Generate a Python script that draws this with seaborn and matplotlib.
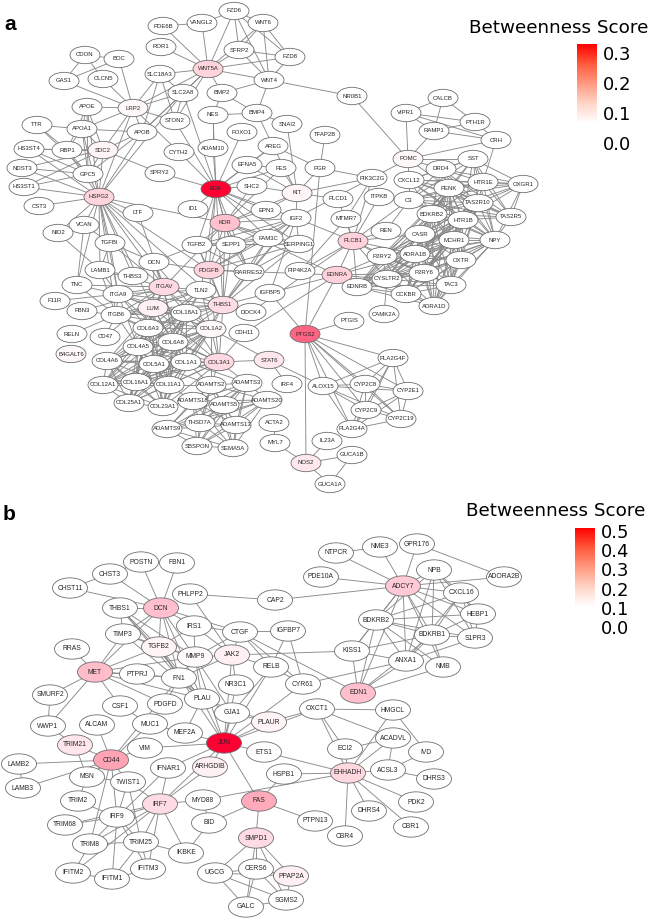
from itertools import combinations

import matplotlib
matplotlib.use("Agg")
import matplotlib.pyplot as plt
import pandas as pd
import seaborn as sns
from matplotlib.cm import ScalarMappable
from matplotlib.collections import LineCollection
from matplotlib.colors import LinearSegmentedColormap, Normalize
from matplotlib.path import Path
from matplotlib.transforms import Affine2D

# Panel a nodes, layout
a_names = [
    "FZD6", "VANGL2", "PDE6B", "WNT6", "ROR1", "SFRP2", "FZD8", "CDON", "BOC", "WNT5A",
    "SLC18A3", "GAS1", "CLCN5", "WNT4", "SLC2A8", "BMP2", "APOE", "LRP2", "BMP4", "NES",
    "STON2", "SNAI2", "TTR", "APOA1", "APOB", "FOXO1", "TFAP2B", "AREG", "ADAM10", "CYTH2",
    "HS3ST4", "RBP1", "SDC2", "EFNA5", "FES", "PGR", "NDST3", "GPC5", "SPRY2", "SHC2",
    "EGF", "KIT", "HS3ST1", "HSPG2", "CST3", "LTF", "ID1", "EPN3", "IGF2", "KDR",
    "VCAN", "NID2", "FAM3C", "TGFBI", "SERPING1", "TGFB2", "SEPP1", "DCN", "PDGFB", "LAMB1",
    "RARRES2", "THBS3", "PIP4K2A", "ITGAV", "TNC", "TLN2", "IGFBP5", "ITGA9", "F11R", "LUM",
    "THBS1", "FBN3", "ITGB6", "COL18A1", "DOCK4", "COL6A3", "COL1A2", "CDH11", "RELN", "CD47",
    "PTGS2", "COL6A8", "COL4A5", "B4GALT6", "COL4A6", "COL5A1", "COL1A1", "COL3A1", "STAT6", "COL12A1",
    "COL16A1", "COL11A1", "ADAMTS2", "ADAMTS3", "IRF4", "ALOX15", "COL25A1", "COL23A1", "ADAMTS18", "ADAMTS5",
    "ADAMTS20", "ACTA2", "THSD7A", "ADAMTS13", "ADAMTS9", "SBSPON", "SEMA5A", "MYL7", "NOS2", "IL23A",
    "GUCA1B", "GUCA1A", "NR0B1", "CALCB", "VIPR1", "PTH1R", "RAMP1", "CRH", "POMC", "SST",
    "DRD4", "OXGR1", "HTR1E", "PIK3C2G", "CXCL12", "PENK", "PLCD1", "ITPKB", "C3", "TAS2R10",
    "TAS2R5", "BDKRB2", "HTR1B", "MTMR7", "REN", "CASR", "MCHR1", "NPY", "PLCB1", "P2RY2",
    "ADRA1B", "OXTR", "EDNRA", "P2RY6", "CYSLTR2", "EDNRB", "TAC3", "CCKBR", "ADRA1D", "CAMK2A",
    "PTGIS", "PLA2G4F", "CYP2C8", "CYP2E1", "CYP2C9", "CYP2C19", "PLA2G4A",
]
a_x = [
    234, 202, 163, 263, 161, 239, 290, 85, 119, 208,
    160, 64, 103, 269, 183, 222, 87, 133, 257, 213,
    175, 287, 37, 82, 142, 242, 325, 273, 213, 179,
    29, 67, 103, 247, 281, 320, 22, 88, 160, 252,
    216, 297, 24, 99, 39, 138, 193, 266, 296, 225,
    84, 58, 268, 110, 299, 197, 231, 154, 209, 100,
    249, 133, 300, 164, 77, 201, 270, 118, 55, 153,
    223, 82, 116, 186, 251, 148, 211, 244, 72, 105,
    305, 173, 138, 71, 107, 154, 186, 219, 269, 103,
    136, 169, 211, 247, 287, 323, 129, 163, 193, 224,
    267, 274, 200, 236, 167, 197, 233, 275, 306, 327,
    352, 330, 352, 443, 406, 475, 434, 496, 408, 473,
    441, 523, 483, 372, 409, 449, 338, 379, 409, 478,
    511, 432, 463, 346, 386, 420, 454, 495, 353, 382,
    415, 461, 337, 424, 387, 357, 451, 406, 434, 384,
    349, 393, 365, 408, 366, 401, 352,
]
a_y = [
    11, 23, 26, 23, 47, 50, 57, 55, 59, 69,
    74, 81, 79, 80, 93, 93, 107, 108, 113, 115,
    121, 124, 125, 129, 132, 132, 135, 146, 148, 152,
    149, 150, 150, 165, 168, 168, 168, 174, 173, 186,
    189, 193, 187, 197, 206, 213, 209, 210, 218, 223,
    225, 233, 238, 243, 244, 245, 245, 262, 270, 270,
    272, 276, 271, 287, 285, 290, 293, 294, 301, 308,
    305, 311, 315, 313, 312, 328, 329, 333, 334, 337,
    334, 342, 347, 354, 361, 364, 362, 362, 360, 385,
    382, 385, 385, 383, 384, 386, 403, 407, 401, 405,
    400, 423, 423, 425, 429, 446, 448, 443, 463, 441,
    455, 484, 96, 98, 113, 122, 131, 140, 159, 159,
    169, 184, 182, 178, 180, 188, 199, 197, 200, 203,
    217, 214, 220, 219, 231, 234, 240, 240, 241, 256,
    254, 260, 275, 273, 279, 287, 285, 294, 306, 314,
    321, 358, 384, 391, 410, 419, 429,
]
a_scores = {
    "EGF": 0.33, "PTGS2": 0.2, "KDR": 0.08, "WNT5A": 0.055, "HSPG2": 0.055, "PDGFB": 0.055,
    "ITGAV": 0.05, "EDNRA": 0.06, "PLCB1": 0.06, "THBS1": 0.045, "COL3A1": 0.05, "LUM": 0.02,
    "COL1A2": 0.01, "STAT6": 0.03, "NOS2": 0.03, "SDC2": 0.015, "LRP2": 0.01, "KIT": 0.015,
    "POMC": 0.01, "B4GALT6": 0.01,
}
# neighbours read node by node, dense groups kept as lists below
a_edges = {
    "FZD6": "VANGL2 WNT6 SFRP2 WNT5A FZD8 WNT4",
    "VANGL2": "PDE6B WNT5A",
    "PDE6B": "WNT5A",
    "WNT6": "SFRP2 FZD8 WNT4 WNT5A",
    "ROR1": "WNT5A",
    "SFRP2": "WNT5A FZD8 WNT4",
    "FZD8": "WNT5A WNT4",
    "WNT5A": "SLC18A3 SLC2A8 BMP2 WNT4 STON2 APOB LRP2",
    "WNT4": "BMP2 BMP4 NR0B1",
    "BMP2": "BMP4 NES",
    "BMP4": "NES SNAI2 AREG",
    "CDON": "GAS1 CLCN5 BOC",
    "BOC": "GAS1 LRP2",
    "GAS1": "LRP2",
    "CLCN5": "LRP2",
    "LRP2": "APOE APOA1 APOB SLC18A3 SLC2A8 STON2 CYTH2 SDC2 HSPG2",
    "SLC18A3": "SLC2A8 STON2 APOB",
    "SLC2A8": "STON2 APOB EGF HSPG2",
    "APOE": "APOA1 RBP1 SDC2 GPC5 HSPG2",
    "TTR": "APOA1 RBP1 GPC5",
    "APOA1": "APOB RBP1 SDC2 GPC5 HSPG2",
    "APOB": "SDC2 GPC5 HSPG2",
    "HS3ST4": "RBP1 GPC5 HSPG2 SDC2",
    "NDST3": "GPC5 HSPG2 SDC2",
    "HS3ST1": "HSPG2 GPC5 SDC2",
    "CST3": "HSPG2",
    "RBP1": "SDC2 GPC5 HSPG2",
    "SDC2": "GPC5 HSPG2 SPRY2",
    "GPC5": "HSPG2",
    "HSPG2": "LTF KDR VCAN NID2 LAMB1 TGFBI DCN ITGAV ITGA9 ITGB6 LUM THBS3 THBS1 PDGFB TNC",
    "SPRY2": "EGF",
    "CYTH2": "EGF",
    "STON2": "EGF",
    "NES": "ADAM10 EGF",
    "ADAM10": "EGF",
    "FOXO1": "EGF",
    "EFNA5": "EGF KIT AREG",
    "AREG": "EGF KIT PGR",
    "SHC2": "EGF KDR KIT",
    "EGF": "KDR EPN3 IGF2 ID1 FES THBS1 PDGFB SEPP1 TGFB2 FAM3C SERPING1 RARRES2 TLN2",
    "SNAI2": "KIT",
    "FES": "KIT EFNA5 KDR",
    "PGR": "KIT PTGS2 TFAP2B PIK3C2G",
    "KIT": "EPN3 IGF2 KDR PIK3C2G PLCD1",
    "EPN3": "KDR",
    "IGF2": "IGFBP5 PIK3C2G",
    "POMC": "NR0B1 VIPR1 RAMP1 CRH SST PIK3C2G CXCL12 DRD4 PENK",
    "VIPR1": "CALCB RAMP1 PTH1R CRH",
    "CALCB": "RAMP1 PTH1R",
    "RAMP1": "PTH1R CRH",
    "PTH1R": "CRH",
    "CRH": "HTR1E",
    "VCAN": "TGFBI TNC",
    "NID2": "LAMB1",
    "LTF": "ITGAV",
    "TGFBI": "ITGAV DCN LAMB1 ITGA9",
    "LAMB1": "ITGA9 ITGAV ITGB6 THBS3",
    "DCN": "ITGAV PDGFB TGFB2 COL1A1 COL1A2 LUM THBS3",
    "TNC": "ITGA9 ITGAV ITGB6",
    "F11R": "ITGA9",
    "FBN3": "ITGB6 ITGAV",
    "RELN": "ITGB6",
    "CD47": "ITGB6 ITGAV",
    "THBS1": "DOCK4 COL1A1 COL1A2 COL3A1 ITGAV LUM TLN2 IGFBP5",
    "COL3A1": "STAT6 PDGFB CDH11 ADAMTS2 ADAMTS3",
    "COL1A1": "ADAMTS2 ADAMTS3",
    "COL1A2": "ADAMTS2 STAT6",
    "COL5A1": "ADAMTS2",
    "COL11A1": "ADAMTS2 ADAMTS18",
    "COL23A1": "ADAMTS18",
    "STAT6": "IRF4 ALOX15",
    "CDH11": "EDNRA",
    "DOCK4": "PLCB1",
    "ACTA2": "MYL7",
    "MYL7": "NOS2",
    "NOS2": "PTGS2 IL23A GUCA1B GUCA1A",
    "GUCA1B": "GUCA1A",
    "PTGS2": "PTGIS PLA2G4F CYP2C8 CYP2E1 CYP2C9 CYP2C19 PLA2G4A ALOX15 EDNRA IGFBP5",
    "PLCB1": "EDNRA EDNRB P2RY2 P2RY6 ADRA1B CASR CYSLTR2 MTMR7 PLCD1 ITPKB PIK3C2G PIP4K2A IGF2 REN C3",
    "EDNRA": "EDNRB P2RY2 P2RY6 CYSLTR2 CCKBR ADRA1B PDGFB IGFBP5 KDR",
    "CYSLTR2": "CAMK2A",
    "MTMR7": "PIK3C2G PIP4K2A",
    "C3": "REN",
    "KDR": "ITGAV",
}
a_groups = [
    ["ITGAV", "ITGA9", "ITGB6", "LUM", "COL18A1", "COL6A3", "COL6A8", "COL4A5", "COL1A2", "THBS1", "TLN2"],
    ["COL6A3", "COL6A8", "COL4A5", "COL4A6", "COL5A1", "COL1A1", "COL3A1", "COL1A2", "COL18A1",
     "COL12A1", "COL16A1", "COL11A1", "COL25A1", "COL23A1", "LUM"],
    ["ADAMTS2", "ADAMTS3", "ADAMTS18", "ADAMTS5", "ADAMTS20", "ADAMTS9", "ADAMTS13", "THSD7A", "SBSPON", "SEMA5A"],
    ["TGFB2", "SEPP1", "FAM3C", "SERPING1", "RARRES2", "PDGFB", "IGF2", "THBS1", "KDR"],
    ["CYP2C8", "CYP2E1", "CYP2C9", "CYP2C19", "PLA2G4F", "PLA2G4A", "ALOX15"],
    ["CXCL12", "SST", "DRD4", "HTR1E", "OXGR1", "PENK", "C3", "TAS2R10", "TAS2R5", "BDKRB2", "HTR1B", "NPY"],
    ["BDKRB2", "HTR1B", "CASR", "MCHR1", "NPY", "P2RY2", "ADRA1B", "OXTR", "P2RY6", "CYSLTR2", "TAC3",
     "CCKBR", "ADRA1D", "EDNRB", "PENK", "TAS2R10"],
]

# Panel b
b_names = [
    "POSTN", "FBN1", "CHST3", "CHST11", "PHLPP2", "CAP2", "THBS1", "DCN", "IRS1", "TIMP3",
    "CTGF", "IGFBP7", "RRAS", "TGFB2", "MMP9", "JAK2", "RELB", "MET", "PTPRJ", "FN1",
    "NR3C1", "CYR61", "SMURF2", "PLAU", "PDGFD", "CSF1", "MUC1", "GJA1", "PLAUR", "OXCT1",
    "WWP1", "ALCAM", "MEF2A", "JUN", "TRIM21", "VIM", "ETS1", "CD44", "LAMB2", "IFNAR1",
    "ARHGDIB", "HSPB1", "MSN", "TWIST1", "LAMB3", "TRIM2", "IRF7", "MYD88", "FAS", "PTPN13",
    "IRF9", "TRIM68", "BID", "SMPD1", "TRIM25", "TRIM8", "IKBKE", "IFITM3", "IFITM2", "IFITM1",
    "UGCG", "CERS6", "PPAP2A", "SGMS2", "GALC", "NTPCR", "NME3", "GPR176", "NPB", "PDE10A",
    "ADORA2B", "ADCY7", "CXCL16", "HEBP1", "BDKRB2", "BDKRB1", "S1PR3", "KISS1", "ANXA1", "NMB",
    "EDN1", "HMGCL", "ACADVL", "IVD", "ECI2", "ACSL3", "EHHADH", "DHRS3", "PDK2", "DHRS4",
    "CBR1", "CBR4",
]
b_x = [
    141, 177, 110, 70, 190, 275, 120, 161, 194, 123,
    240, 288, 72, 159, 195, 232, 271, 95, 137, 179,
    236, 303, 50, 202, 165, 120, 150, 232, 269, 317,
    48, 97, 185, 224, 75, 145, 264, 111, 19, 168,
    210, 284, 87, 128, 23, 78, 160, 203, 259, 315,
    117, 65, 209, 256, 141, 90, 186, 148, 73, 112,
    215, 256, 291, 286, 246, 336, 380, 417, 434, 321,
    504, 403, 461, 478, 376, 432, 475, 352, 406, 443,
    358, 393, 393, 426, 345, 388, 348, 434, 416, 369,
    411, 345,
]
b_y = [
    562, 563, 574, 588, 594, 600, 608, 608, 626, 634,
    632, 631, 649, 647, 657, 655, 667, 672, 674, 678,
    685, 684, 695, 699, 704, 706, 724, 713, 722, 709,
    726, 725, 733, 743, 745, 748, 752, 760, 764, 768,
    767, 774, 777, 782, 788, 801, 804, 800, 801, 821,
    817, 825, 823, 838, 842, 844, 853, 869, 873, 879,
    873, 869, 876, 900, 907, 553, 547, 544, 570, 577,
    577, 586, 593, 614, 620, 635, 638, 651, 661, 667,
    693, 710, 738, 752, 749, 770, 773, 779, 802, 811,
    827, 836,
]
b_scores = {
    "JUN": 0.5, "CD44": 0.18, "FAS": 0.165, "MET": 0.13, "DCN": 0.125, "EDN1": 0.125, "ADCY7": 0.105,
    "EHHADH": 0.08, "SMPD1": 0.07, "IRF7": 0.07, "TRIM21": 0.05, "JAK2": 0.03, "PPAP2A": 0.03,
    "ARHGDIB": 0.03, "TGFB2": 0.02, "PLAUR": 0.02, "MMP9": 0.01,
}
b_edges = {
    "CHST11": "CHST3 DCN",
    "CHST3": "POSTN DCN",
    "POSTN": "DCN",
    "FBN1": "DCN",
    "PHLPP2": "CAP2 JAK2",
    "CAP2": "ADCY7",
    "THBS1": "DCN TIMP3 TGFB2 MMP9 FN1 PLAU",
    "DCN": "IRS1 TIMP3 TGFB2 MMP9 FN1 MET PLAU CTGF",
    "IRS1": "CTGF MMP9 JAK2 TGFB2",
    "CTGF": "IGFBP7 JAK2 RELB MMP9 CYR61 EDN1",
    "IGFBP7": "RELB CYR61",
    "TIMP3": "TGFB2 MET MMP9 PLAU",
    "TGFB2": "MET MMP9 FN1 PLAU JUN",
    "MMP9": "JAK2 FN1 PLAU JUN GJA1 MET",
    "JAK2": "RELB NR3C1 JUN KISS1 FN1",
    "RELB": "JUN GJA1 CYR61",
    "RRAS": "MET",
    "MET": "PTPRJ FN1 SMURF2 WWP1 CSF1 PLAU PDGFD",
    "SMURF2": "WWP1",
    "WWP1": "TRIM21",
    "FN1": "PLAU PDGFD PTPRJ CD44",
    "NR3C1": "JUN",
    "PLAU": "PLAUR JUN GJA1 MEF2A",
    "CSF1": "MUC1",
    "PDGFD": "MUC1",
    "MUC1": "CD44 MEF2A",
    "ALCAM": "CD44",
    "TRIM21": "CD44 MSN",
    "VIM": "CD44 JUN",
    "JUN": "GJA1 PLAUR ETS1 MEF2A FAS ARHGDIB CYR61 IRF7 IFNAR1 OXCT1",
    "PLAUR": "OXCT1 GJA1",
    "OXCT1": "HMGCL ACADVL ECI2 EHHADH",
    "HMGCL": "IVD EHHADH",
    "ACADVL": "ACSL3 ECI2 EHHADH",
    "IVD": "ACSL3",
    "ECI2": "EHHADH",
    "ACSL3": "DHRS3 EHHADH",
    "EHHADH": "PDK2 DHRS4 CBR1 CBR4 ETS1 HSPB1 MYD88",
    "HSPB1": "FAS",
    "FAS": "BID PTPN13 SMPD1",
    "LAMB2": "CD44 LAMB3",
    "LAMB3": "CD44",
    "MSN": "CD44 TWIST1 TRIM2",
    "CD44": "TWIST1 IRF9 TRIM8",
    "TWIST1": "IRF7 IRF9 TRIM25",
    "IFNAR1": "IRF7 IRF9",
    "ARHGDIB": "IRF7",
    "MYD88": "IRF7 BID",
    "BID": "IKBKE",
    "IRF7": "IRF9 TRIM8 TRIM25 TRIM68 IFITM2 IFITM3 IKBKE",
    "IRF9": "TRIM2 TRIM68 TRIM8 TRIM25 IFITM1 IFITM3",
    "TRIM25": "IFITM3 IFITM1 IKBKE TRIM8",
    "TRIM8": "IFITM2",
    "IFITM1": "IFITM2 IFITM3",
    "SMPD1": "UGCG CERS6 PPAP2A SGMS2 GALC",
    "UGCG": "CERS6 SGMS2 GALC PPAP2A",
    "CERS6": "GALC SGMS2 PPAP2A",
    "PPAP2A": "SGMS2",
    "GALC": "SGMS2",
    "ADCY7": "NTPCR NME3 GPR176 PDE10A NPB ADORA2B CXCL16 HEBP1 BDKRB2 BDKRB1 S1PR3 KISS1 ANXA1 EDN1 NMB",
    "GPR176": "ADORA2B",
    "NTPCR": "NME3",
    "NPB": "CXCL16 HEBP1 BDKRB1 BDKRB2 ANXA1 S1PR3",
    "CXCL16": "BDKRB2 BDKRB1 ANXA1 HEBP1 S1PR3",
    "HEBP1": "BDKRB2 BDKRB1 S1PR3",
    "BDKRB2": "BDKRB1 KISS1 ANXA1 EDN1 NMB S1PR3",
    "BDKRB1": "S1PR3 KISS1 ANXA1 EDN1 NMB",
    "S1PR3": "ANXA1",
    "KISS1": "EDN1 ANXA1",
    "ANXA1": "EDN1 CYR61",
    "NMB": "EDN1",
}

a_ticks = [0.0, 0.1, 0.2, 0.3]
b_ticks = [0.0, 0.1, 0.2, 0.3, 0.4, 0.5]

NODE_CMAP = LinearSegmentedColormap.from_list("node", ["#ffffff", "#ff0033"])
BAR_CMAP = LinearSegmentedColormap.from_list(
    "bar", ["#ffffff", "#ffffff", "#ffd5c8", "#ff9a80", "#ff5a3c", "#ff0000"]
)
ELLIPSE = Path.unit_circle().transformed(Affine2D().scale(1, 0.58))

W, H = 651, 919


def edge_pairs(edges, groups):
    pairs = set()
    for node, others in edges.items():
        for other in others.split():
            pairs.add(tuple(sorted((node, other))))
    for group in groups:
        for pair in combinations(group, 2):
            pairs.add(tuple(sorted(pair)))
    return pairs


def draw_network(ax, names, xs, ys, scores, pairs, vmax, size, fontsize):
    nodes = pd.DataFrame({"name": names, "x": xs, "y": ys})
    nodes["score"] = nodes["name"].map(scores).fillna(0.0)
    pos = nodes.set_index("name")[["x", "y"]]

    segments = [[pos.loc[a].values, pos.loc[b].values] for a, b in pairs]
    ax.add_collection(LineCollection(segments, colors="#8a8a8a", linewidths=0.65, zorder=1))

    sns.scatterplot(
        data=nodes, x="x", y="y", hue="score", palette=NODE_CMAP,
        hue_norm=(0, vmax), marker=ELLIPSE, s=size, edgecolor="#6e6e6e",
        linewidth=0.6, legend=False, alpha=1, zorder=2, ax=ax,
    )
    for row in nodes.itertuples():
        ax.text(row.x, row.y, row.name, ha="center", va="center", fontsize=fontsize,
                color="#262626", zorder=3)


def draw_scale(fig, left, top, right, bottom, vmax, ticks):
    cax = fig.add_axes([left / W, 1 - bottom / H, (right - left) / W, (bottom - top) / H])
    cbar = fig.colorbar(ScalarMappable(Normalize(0, vmax), BAR_CMAP), cax=cax, ticks=ticks)
    cbar.outline.set_visible(False)
    cax.tick_params(direction="in", color="white", length=3.5, width=0.6, left=True, right=True,
                    labelsize=13, pad=4, labelcolor="black")
    cbar.ax.set_yticklabels([f"{t:.1f}" for t in ticks], family="DejaVu Sans")


sns.set_theme(style="white")
plt.rcParams["font.family"] = ["Liberation Sans", "DejaVu Sans"]

fig = plt.figure(figsize=(W / 100, H / 100), dpi=100)
ax = fig.add_axes([0, 0, 1, 1])

draw_network(ax, a_names, a_x, a_y, a_scores, edge_pairs(a_edges, a_groups), 0.33, 466, 4.3)
draw_network(ax, b_names, b_x, b_y, b_scores, edge_pairs(b_edges, []), 0.5, 635, 4.9)

ax.set_xlim(0, W)
ax.set_ylim(H, 0)
ax.set_axis_off()

ax.text(4, 25, "a", fontsize=15, fontweight="bold", color="black", va="center")
ax.text(3, 514, "b", fontsize=15, fontweight="bold", color="black", va="center")
ax.text(469, 28, "Betweenness Score", fontsize=13.2, family="DejaVu Sans", color="black", va="center")
ax.text(466, 511, "Betweenness Score", fontsize=13.2, family="DejaVu Sans", color="black", va="center")

draw_scale(fig, 577, 44, 597, 143, 0.33, a_ticks)
draw_scale(fig, 575, 528, 595, 627, 0.515, b_ticks)

fig.savefig("out.png", dpi=100)
